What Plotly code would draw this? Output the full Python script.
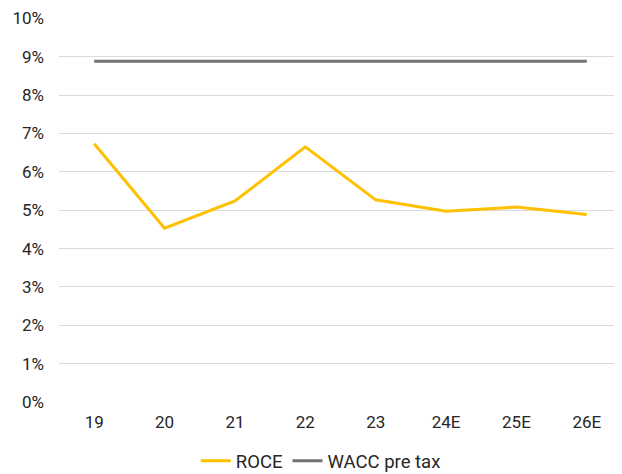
import plotly.graph_objects as go

categories = ["19", "20", "21", "22", "23", "24E", "25E", "26E"]
roce = [6.73, 4.53, 5.24, 6.65, 5.27, 4.97, 5.08, 4.89]
wacc = [8.88, 8.88, 8.88, 8.88, 8.88, 8.88, 8.88, 8.88]
y_ticks = [0, 1, 2, 3, 4, 5, 6, 7, 8, 9, 10]
y_labels = [f"{v}%" for v in y_ticks]

fig = go.Figure()
fig.add_trace(go.Scatter(x=categories, y=roce, mode="lines", name="ROCE",
                         line=dict(color="#FFC000", width=3)))
fig.add_trace(go.Scatter(x=categories, y=wacc, mode="lines", name="WACC pre tax",
                         line=dict(color="#767171", width=3)))

# page body has an 8px margin, so the figure is sized to fit inside it
fig.update_layout(
    width=614, height=466,
    margin=dict(l=51, r=0, t=10, b=72, autoexpand=False),
    plot_bgcolor="white", paper_bgcolor="white",
    font=dict(family="Roboto", size=17, color="#262626"),
    showlegend=True,
    legend=dict(orientation="h", x=0.465, xanchor="center", y=-0.154, yanchor="middle",
                font=dict(size=18.5), itemwidth=30, tracegroupgap=0,
                bgcolor="rgba(0,0,0,0)"),
)
fig.update_xaxes(type="category", range=[-0.5, 7.5], showgrid=False, zeroline=False,
                 showline=False, ticks="", ticklabelstandoff=8, automargin=False)
fig.update_yaxes(range=[0, 10.01], tickvals=y_ticks, ticktext=y_labels,
                 showgrid=True, gridcolor="#D9D9D9", gridwidth=1,
                 zeroline=False, showline=False, ticks="", ticklabelstandoff=14,
                 automargin=False, ticklabeloverflow="allow")

fig.write_html("out.html")
